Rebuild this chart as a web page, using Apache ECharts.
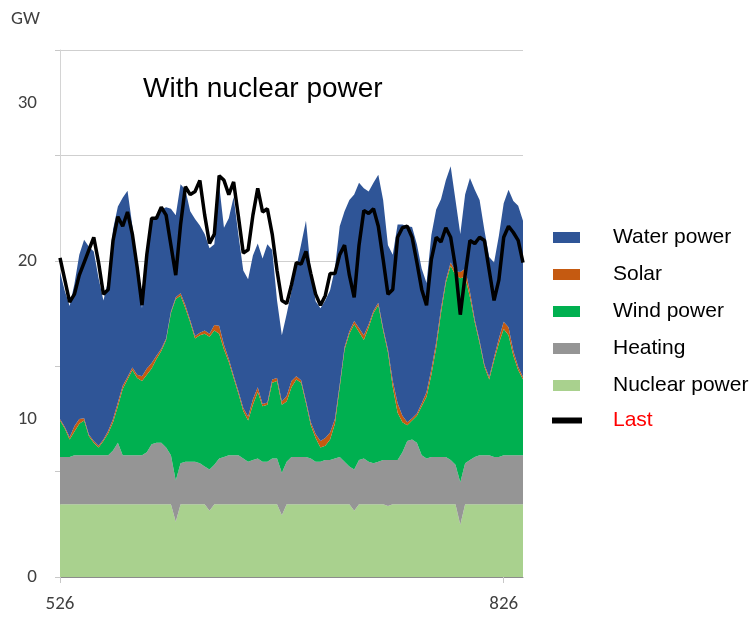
<!DOCTYPE html>
<html>
<head>
<meta charset="utf-8">
<script src="https://cdn.jsdelivr.net/npm/echarts@6/dist/echarts.min.js"></script>
<style>
  html, body { margin: 0; padding: 0; background: #fff; }
  #main { width: 754px; height: 617px; }
</style>
</head>
<body>
<div id="main"></div>
<script>
var chart = echarts.init(document.getElementById('main'));

// days, MDD (26 May .. 30 Aug)
var days = ['526','527','528','529','530','531',
  '601','602','603','604','605','606','607','608','609','610','611','612','613','614','615',
  '616','617','618','619','620','621','622','623','624','625','626','627','628','629','630',
  '701','702','703','704','705','706','707','708','709','710','711','712','713','714','715','716',
  '717','718','719','720','721','722','723','724','725','726','727','728','729','730','731',
  '801','802','803','804','805','806','807','808','809','810','811','812','813','814','815',
  '816','817','818','819','820','821','822','823','824','825','826','827','828','829','830'];
var shownDays = ['526', '826'];

// GW per day
var nuclear = [4.6,4.6,4.6,4.6,4.6,4.6,4.6,4.6,4.6,4.6,
  4.6,4.6,4.6,4.6,4.6,4.6,4.6,4.6,4.6,4.6,
  4.6,4.6,4.6,4.6,3.5,4.6,4.6,4.6,4.6,4.6,
  4.6,4.2,4.6,4.6,4.6,4.6,4.6,4.6,4.6,4.6,
  4.6,4.6,4.6,4.6,4.6,4.6,3.9,4.6,4.6,4.6,
  4.6,4.6,4.6,4.6,4.6,4.6,4.6,4.6,4.6,4.6,
  4.6,4.2,4.6,4.6,4.6,4.6,4.6,4.6,4.5,4.6,
  4.6,4.6,4.6,4.6,4.6,4.6,4.6,4.6,4.6,4.6,
  4.6,4.6,4.6,3.3,4.6,4.6,4.6,4.6,4.6,4.6,
  4.6,4.6,4.6,4.6,4.6,4.6,4.6];
var heating = [3.0,3.0,3.0,3.1,3.1,3.1,3.1,3.1,3.1,3.1,
  3.1,3.4,3.9,3.1,3.1,3.1,3.1,3.1,3.3,3.8,
  3.9,3.9,3.6,3.1,2.6,2.6,2.7,2.7,2.7,2.6,
  2.4,2.6,2.5,2.9,3.0,3.1,3.1,3.1,2.9,2.7,
  2.8,2.9,2.7,2.7,2.9,2.9,2.7,2.7,3.0,3.0,
  3.0,3.0,2.9,2.7,2.7,2.8,2.8,2.9,3.0,2.7,
  2.4,2.6,2.8,2.9,2.7,2.6,2.7,2.8,2.9,2.8,
  2.8,3.3,4.0,4.1,3.9,3.1,2.9,3.0,3.0,3.0,
  3.0,2.8,2.5,2.7,2.6,2.8,3.0,3.1,3.1,3.1,
  3.0,3.0,3.1,3.1,3.1,3.1,3.1];
var wind = [2.3,1.8,1.1,1.5,2.0,2.2,1.2,0.8,0.5,0.9,
  1.4,1.8,2.3,4.2,4.8,5.4,4.9,4.7,4.9,4.8,
  5.3,5.8,6.8,9.0,11.5,10.6,9.7,8.8,7.8,8.1,
  8.4,8.4,8.5,7.9,6.8,5.9,4.9,3.9,3.0,2.6,
  3.5,4.2,3.5,3.6,4.8,4.9,4.3,3.8,4.4,4.9,
  4.7,3.4,2.1,1.5,0.9,0.9,1.3,2.2,4.4,7.1,
  8.4,9.2,8.1,7.5,8.5,9.5,9.9,8.2,6.8,4.6,
  3.0,1.9,1.0,1.2,1.7,3.1,3.9,5.2,6.9,9.1,
  11.0,12.3,12.0,12.9,11.8,10.3,8.5,7.1,5.6,4.8,
  6.1,7.2,8.0,7.6,6.3,5.4,4.8];
var solar = [0.1,0.1,0.15,0.35,0.3,0.15,0.1,0.1,0.1,0.1,
  0.15,0.2,0.25,0.2,0.15,0.15,0.2,0.3,0.4,0.35,
  0.2,0.15,0.1,0.1,0.1,0.15,0.2,0.15,0.15,0.15,
  0.2,0.2,0.35,0.5,0.3,0.2,0.15,0.15,0.2,0.25,
  0.35,0.3,0.15,0.15,0.2,0.2,0.2,0.35,0.4,0.2,
  0.15,0.15,0.2,0.25,0.4,0.5,0.45,0.3,0.2,0.15,
  0.15,0.2,0.25,0.3,0.2,0.15,0.15,0.15,0.2,0.4,
  0.6,0.4,0.2,0.15,0.15,0.2,0.3,0.35,0.35,0.3,
  0.2,0.2,0.25,0.4,0.5,0.35,0.2,0.15,0.15,0.15,
  0.2,0.3,0.45,0.5,0.3,0.2,0.15];
var water = [9.3,8.6,8.3,9.0,10.4,11.3,11.9,12.0,10.6,8.8,
  9.5,12.0,12.4,11.9,11.8,9.0,7.0,4.3,7.2,9.0,
  8.9,8.8,8.3,6.5,5.2,6.9,7.3,6.9,7.4,6.8,
  6.1,5.4,5.1,8.9,7.4,8.9,11.3,9.9,8.7,8.7,
  9.1,9.1,9.2,10.0,8.2,4.9,4.2,5.2,5.7,6.9,
  8.6,11.4,9.6,8.4,8.4,8.7,9.0,9.5,10.0,8.6,
  8.3,8.0,9.2,9.3,8.4,8.1,8.1,8.1,6.6,8.0,
  11.3,12.1,12.4,12.1,10.7,8.5,6.9,8.5,8.4,6.9,
  6.3,6.1,4.5,2.4,4.7,7.2,8.2,8.9,8.5,7.6,
  6.0,6.5,7.5,8.7,9.5,10.2,9.9];
// Last = load
var last = [20.2,18.8,17.4,17.9,19.1,19.9,20.7,21.5,19.9,17.9,
  18.2,21.3,22.8,22.2,23.1,21.7,19.6,17.2,20.4,22.7,
  22.7,23.4,22.9,21.0,19.1,22.3,24.7,24.2,24.4,25.1,
  22.9,21.1,21.7,25.4,25.1,24.2,25.0,22.8,20.5,20.7,
  22.9,24.6,23.1,23.3,21.7,19.4,17.5,17.3,18.5,19.9,
  19.8,20.6,19.2,17.9,17.2,17.8,19.2,19.2,20.4,21.0,
  19.1,17.7,21.0,23.2,23.0,23.3,22.2,20.1,17.9,18.2,
  21.5,22.1,22.2,21.5,19.9,18.2,17.2,20.1,21.5,21.2,
  22.1,21.5,19.6,16.6,19.1,21.3,21.1,21.5,21.3,19.4,
  17.5,18.8,21.5,22.2,21.8,21.3,19.9];

var axisFont = 'Carlito, "Open Sans", sans-serif';
var textFont = '"Liberation Sans", Arial, sans-serif';

function area(name, values, color) {
    return {
        name: name,
        type: 'line',
        stack: 'gen',
        data: values,
        symbol: 'none',
        lineStyle: { width: 0, color: color },
        itemStyle: { color: color },
        areaStyle: { color: color, opacity: 1 },
        emphasis: { disabled: true }
    };
}

var option = {
    backgroundColor: '#ffffff',
    animation: false,
    title: {
        text: 'With nuclear power',
        left: 138,
        top: 70,
        textStyle: { fontFamily: textFont, fontSize: 28, fontWeight: 'normal', color: '#000' }
    },
    graphic: [{
        type: 'text',
        left: 11,
        top: 10,
        style: { text: 'GW', font: '19px ' + axisFont, fill: '#404040' }
    }],
    legend: [{
        orient: 'vertical',
        left: 548,
        top: 222,
        itemWidth: 27,
        itemHeight: 11,
        itemGap: 16,
        icon: 'rect',
        data: ['Water power', 'Solar', 'Wind power', 'Heating', 'Nuclear power'],
        textStyle: { fontFamily: textFont, fontSize: 21, color: '#000', lineHeight: 20, padding: [0, 0, 0, 28] }
    }, {
        orient: 'vertical',
        left: 547,
        top: 405,
        itemWidth: 30,
        itemHeight: 6,
        icon: 'rect',
        data: [{ name: 'Last', itemStyle: { color: '#000' } }],
        textStyle: { fontFamily: textFont, fontSize: 21, color: '#ff0000', lineHeight: 20, padding: [0, 0, 0, 26] }
    }],
    grid: { left: 60, right: 231, top: 50, bottom: 40 },
    xAxis: {
        type: 'category',
        boundaryGap: false,
        data: days,
        axisLine: { lineStyle: { color: '#8c8c8c', width: 1 } },
        axisTick: {
            show: true,
            length: 6,
            lineStyle: { color: '#c8c8c8' },
            interval: function (i, v) { return shownDays.indexOf(v) >= 0; }
        },
        axisLabel: {
            interval: function (i, v) { return shownDays.indexOf(v) >= 0; },
            margin: 18,
            fontFamily: axisFont,
            fontSize: 19,
            color: '#404040'
        },
        splitLine: { show: false }
    },
    yAxis: [{
        type: 'value',
        min: 0,
        max: 33.35,
        interval: 10,
        axisLine: { show: false },
        axisTick: { show: false },
        splitLine: { show: false },
        axisLabel: {
            margin: 23,
            showMaxLabel: false,
            fontFamily: axisFont,
            fontSize: 19,
            color: '#404040',
            formatter: function (v) { return v % 10 === 0 ? v : ''; }
        }
    }, {
        type: 'value',
        position: 'left',
        min: 0,
        max: 5,
        interval: 1,
        axisLabel: { show: false },
        axisLine: { show: true, lineStyle: { color: '#d4d4d4' } },
        axisTick: { show: true, length: 5, lineStyle: { color: '#c8c8c8' } },
        splitLine: { show: true, lineStyle: { color: '#cfcfcf' } }
    }],
    series: [
        area('Nuclear power', nuclear, '#a9d18e'),
        area('Heating', heating, '#959595'),
        area('Wind power', wind, '#00b050'),
        area('Solar', solar, '#c55a11'),
        area('Water power', water, '#2f5597'),
        {
            name: 'Last',
            type: 'line',
            data: last,
            symbol: 'none',
            z: 5,
            itemStyle: { color: '#000' },
            lineStyle: { color: '#000', width: 3.5 }
        }
    ]
};

chart.setOption(option);
window.addEventListener('resize', function () { chart.resize(); });
</script>
</body>
</html>
